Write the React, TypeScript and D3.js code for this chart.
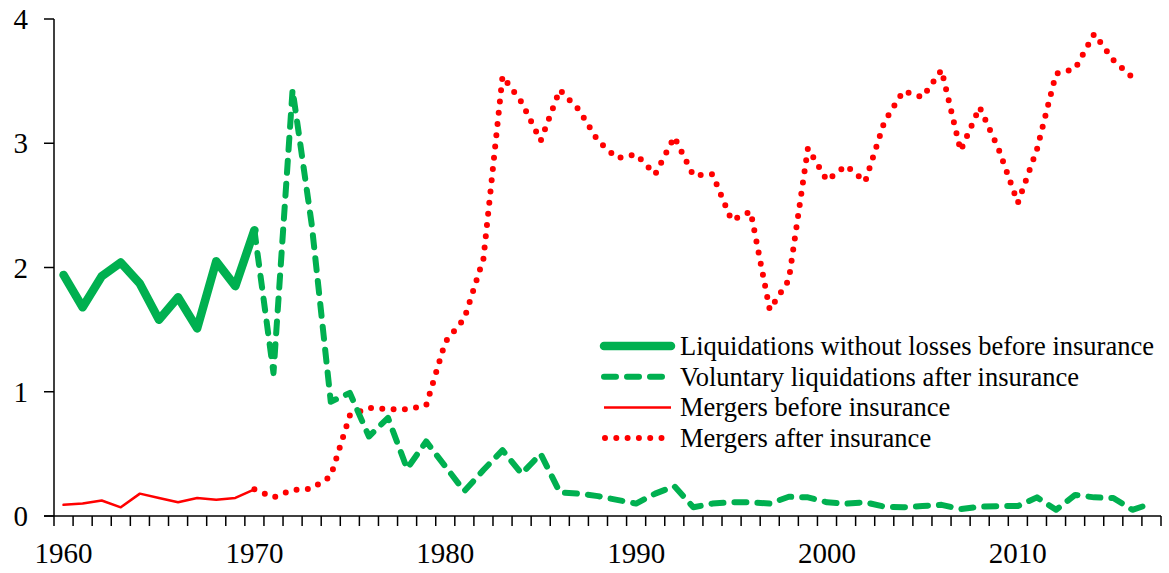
import React from "react"
import * as d3 from "d3"

// years
const yearsBefore = d3.range(1960, 1971)
const yearsVol = d3.range(1970, 2018)
const yearsMergAfter = d3.range(1970, 2017)
const allYears = d3.range(1960, 2018)
const xLabels = [1960, 1970, 1980, 1990, 2000, 2010]
const yTicks = [0, 1, 2, 3, 4]

// series
const liqBefore = [1.94, 1.68, 1.93, 2.04, 1.87, 1.58, 1.76, 1.51, 2.05, 1.85, 2.3]
const mergBefore = [0.09, 0.1, 0.125, 0.07, 0.18, 0.145, 0.11, 0.145, 0.13, 0.145, 0.215]
const volAfter = [
  2.3, 1.15, 3.43, 2.35, 0.92, 0.99, 0.64, 0.79, 0.38, 0.6,
  0.4, 0.2, 0.37, 0.53, 0.34, 0.5, 0.19, 0.18, 0.16, 0.13,
  0.1, 0.18, 0.24, 0.07, 0.1, 0.11, 0.11, 0.1, 0.155, 0.15,
  0.11, 0.1, 0.11, 0.075, 0.07, 0.08, 0.09, 0.055, 0.075, 0.08,
  0.08, 0.15, 0.05, 0.17, 0.15, 0.145, 0.05, 0.1,
]
const mergAfter = [
  0.215, 0.15, 0.21, 0.22, 0.32, 0.81, 0.87, 0.86, 0.86, 0.89,
  1.4, 1.59, 2.07, 3.54, 3.33, 3.02, 3.43, 3.27, 3.02, 2.88,
  2.91, 2.75, 3.05, 2.74, 2.75, 2.38, 2.45, 1.66, 1.9, 2.96,
  2.7, 2.82, 2.69, 3.17, 3.42, 3.37, 3.59, 2.94, 3.29, 2.95,
  2.52, 2.95, 3.56, 3.6, 3.88, 3.67, 3.53,
]

const GREEN = "#00B050"
const RED = "#FF0000"
const FONT = "'Times New Roman', 'Liberation Serif', serif"

const series = [
  { name: "Liquidations without losses before insurance", years: yearsBefore, values: liqBefore, color: GREEN, width: 8.5, dash: null },
  { name: "Voluntary liquidations after insurance", years: yearsVol, values: volAfter, color: GREEN, width: 6, dash: "12,11" },
  { name: "Mergers before insurance", years: yearsBefore, values: mergBefore, color: RED, width: 2.5, dash: null },
  { name: "Mergers after insurance", years: yearsMergAfter, values: mergAfter, color: RED, width: 6, dash: "0,11.3" },
]

export default function App() {
  const ref = React.useRef<SVGSVGElement>(null)

  React.useEffect(() => {
    const width = 1169
    const height = 573
    const svg = d3.select(ref.current)
    svg.selectAll("*").remove()
    svg.attr("width", width).attr("height", height)

    const x = d3.scaleBand<number>().domain(allYears).range([54, 1161]).padding(0)
    const cx = (yr: number) => (x(yr) as number) + x.bandwidth() / 2
    const y = d3.scaleLinear().domain([0, 4]).range([516, 19])

    // draw order: mergers after, vol, mergers before, liq before
    const order = [3, 1, 2, 0]
    order.forEach((i) => {
      const s = series[i]
      const pts = s.years.map((yr, k) => [yr, s.values[k]] as [number, number])
      const line = d3.line<[number, number]>().x((d) => cx(d[0])).y((d) => y(d[1]))
      svg.append("path")
        .attr("d", line(pts))
        .attr("fill", "none")
        .attr("stroke", s.color)
        .attr("stroke-width", s.width)
        .attr("stroke-linejoin", "round")
        .attr("stroke-linecap", "round")
        .attr("stroke-dasharray", s.dash)
    })

    // y axis
    const yAxis = svg.append("g")
    yAxis.append("line")
      .attr("x1", 54).attr("x2", 54).attr("y1", y(4)).attr("y2", y(0))
      .attr("stroke", "#000").attr("stroke-width", 1.5)
    yTicks.forEach((t) => {
      yAxis.append("line")
        .attr("x1", 44).attr("x2", 54).attr("y1", y(t)).attr("y2", y(t))
        .attr("stroke", "#000").attr("stroke-width", 1.5)
      yAxis.append("text")
        .attr("x", 28).attr("y", y(t))
        .attr("text-anchor", "end")
        .attr("dominant-baseline", "central")
        .attr("font-family", FONT).attr("font-size", 29)
        .text(t)
    })

    // x axis
    const xAxis = svg.append("g")
    xAxis.append("line")
      .attr("x1", 44).attr("x2", 1161).attr("y1", 516).attr("y2", 516)
      .attr("stroke", "#000").attr("stroke-width", 1.5)
    const bounds = allYears.map((yr) => x(yr) as number).concat([1161])
    bounds.forEach((b) => {
      xAxis.append("line")
        .attr("x1", b).attr("x2", b).attr("y1", 516).attr("y2", 526)
        .attr("stroke", "#000").attr("stroke-width", 1.5)
    })
    xLabels.forEach((yr) => {
      xAxis.append("text")
        .attr("x", cx(yr)).attr("y", 563)
        .attr("text-anchor", "middle")
        .attr("font-family", FONT).attr("font-size", 29)
        .text(yr)
    })

    // legend
    const lg = svg.append("g")
    series.forEach((s, i) => {
      const ly = 346 + i * 30.7
      lg.append("line")
        .attr("x1", i === 3 ? 605 : 604).attr("x2", 671)
        .attr("y1", ly).attr("y2", ly)
        .attr("stroke", s.color)
        .attr("stroke-width", s.width)
        .attr("stroke-linecap", i === 2 ? "butt" : "round")
        .attr("stroke-dasharray", s.dash)
      lg.append("text")
        .attr("x", 680).attr("y", ly)
        .attr("dominant-baseline", "central")
        .attr("font-family", FONT).attr("font-size", 26.5)
        .text(s.name)
    })
  }, [])

  return (
    <svg ref={ref} style={{ position: "absolute", left: 0, top: 0, background: "#fff" }} />
  )
}
